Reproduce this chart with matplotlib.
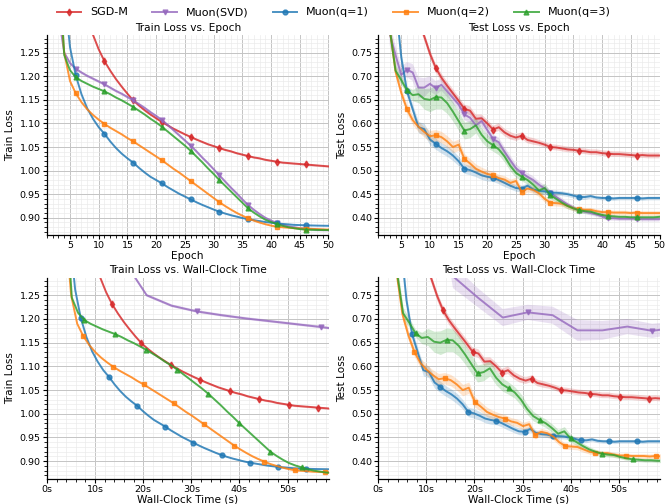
import numpy as np
import matplotlib
matplotlib.use("Agg")
import matplotlib.pyplot as plt
from matplotlib.ticker import AutoMinorLocator, MultipleLocator, FuncFormatter, FormatStrFormatter
from matplotlib.lines import Line2D

# ---------------------------------------------------------------- data
epochs = np.arange(1, 51)

methods = ["SGD-M", "Muon(SVD)", "Muon(q=1)", "Muon(q=2)", "Muon(q=3)"]
colors = ["#d62728", "#9467bd", "#1f77b4", "#ff7f0e", "#2ca02c"]
markers = ["d", "v", "o", "s", "^"]

# measured wall-clock seconds per training epoch
sec_per_epoch = [1.226, 5.18, 1.17, 1.255, 1.29]

train_sgdm = [2.05, 1.85, 1.70, 1.59, 1.50, 1.43, 1.37, 1.325, 1.288, 1.257,
              1.232, 1.212, 1.194, 1.178, 1.163, 1.149, 1.138, 1.128, 1.119, 1.111,
              1.103, 1.096, 1.089, 1.083, 1.077, 1.0715, 1.066, 1.061, 1.056, 1.052,
              1.048, 1.044, 1.041, 1.037, 1.034, 1.031, 1.028, 1.026, 1.023, 1.021,
              1.019, 1.017, 1.016, 1.015, 1.014, 1.013, 1.012, 1.011, 1.010, 1.009]
train_svd = [1.90, 1.55, 1.33, 1.25, 1.228, 1.216, 1.208, 1.201, 1.195, 1.189,
             1.183, 1.176, 1.169, 1.163, 1.156, 1.149, 1.141, 1.133, 1.124, 1.116,
             1.107, 1.097, 1.086, 1.075, 1.064, 1.053, 1.041, 1.028, 1.016, 1.003,
             0.990, 0.977, 0.964, 0.952, 0.939, 0.927, 0.917, 0.908, 0.900, 0.894,
             0.889, 0.885, 0.882, 0.880, 0.878, 0.877, 0.876, 0.875, 0.8745, 0.874]
train_q1 = [2.00, 1.75, 1.55, 1.38, 1.262, 1.202, 1.162, 1.132, 1.110, 1.092,
            1.078, 1.062, 1.048, 1.036, 1.026, 1.017, 1.006, 0.996, 0.987, 0.980,
            0.973, 0.965, 0.958, 0.951, 0.945, 0.939, 0.933, 0.9275, 0.9225, 0.9175,
            0.913, 0.909, 0.9055, 0.9025, 0.8995, 0.897, 0.895, 0.893, 0.891, 0.8895,
            0.888, 0.887, 0.886, 0.885, 0.8845, 0.884, 0.8837, 0.8834, 0.8832, 0.883]
train_q2 = [1.90, 1.62, 1.40, 1.25, 1.19, 1.164, 1.145, 1.130, 1.118, 1.108,
            1.099, 1.091, 1.084, 1.077, 1.069, 1.062, 1.054, 1.046, 1.038, 1.030,
            1.022, 1.013, 1.004, 0.996, 0.987, 0.978, 0.969, 0.960, 0.951, 0.942,
            0.933, 0.925, 0.9175, 0.9105, 0.9045, 0.899, 0.894, 0.890, 0.8865, 0.8835,
            0.881, 0.880, 0.879, 0.878, 0.8775, 0.877, 0.8765, 0.876, 0.8755, 0.875]
train_q3 = [2.00, 1.70, 1.45, 1.245, 1.213, 1.198, 1.190, 1.184, 1.178, 1.173,
            1.168, 1.162, 1.155, 1.149, 1.142, 1.135, 1.127, 1.119, 1.110, 1.102,
            1.093, 1.083, 1.073, 1.063, 1.053, 1.042, 1.030, 1.018, 1.005, 0.993,
            0.980, 0.968, 0.956, 0.944, 0.932, 0.920, 0.911, 0.903, 0.896, 0.891,
            0.887, 0.883, 0.880, 0.878, 0.876, 0.875, 0.8745, 0.8742, 0.874, 0.874]
train_std = [0.002, 0.003, 0.0015, 0.0015, 0.0015]

test_sgdm = [1.60, 1.35, 1.18, 1.06, 0.97, 0.90, 0.85, 0.82, 0.785, 0.748,
             0.718, 0.697, 0.680, 0.664, 0.648, 0.631, 0.627, 0.610, 0.611, 0.600,
             0.587, 0.592, 0.581, 0.574, 0.570, 0.574, 0.565, 0.562, 0.559, 0.555,
             0.550, 0.549, 0.547, 0.545, 0.544, 0.542, 0.541, 0.539, 0.539, 0.537,
             0.536, 0.535, 0.535, 0.534, 0.533, 0.532, 0.533, 0.532, 0.532, 0.532]
test_svd = [1.50, 1.10, 0.79, 0.745, 0.703, 0.714, 0.708, 0.676, 0.676, 0.684,
            0.675, 0.682, 0.668, 0.654, 0.640, 0.619, 0.612, 0.596, 0.605, 0.586,
            0.567, 0.560, 0.540, 0.522, 0.505, 0.495, 0.487, 0.480, 0.470, 0.462,
            0.452, 0.444, 0.436, 0.428, 0.421, 0.415, 0.413, 0.410, 0.407, 0.403,
            0.399, 0.399, 0.398, 0.398, 0.398, 0.398, 0.397, 0.397, 0.397, 0.397]
test_q1 = [1.30, 1.05, 0.92, 0.86, 0.74, 0.668, 0.630, 0.592, 0.588, 0.566,
           0.557, 0.548, 0.541, 0.532, 0.520, 0.504, 0.501, 0.496, 0.490, 0.487,
           0.485, 0.480, 0.474, 0.468, 0.463, 0.462, 0.468, 0.460, 0.457, 0.456,
           0.453, 0.453, 0.452, 0.450, 0.447, 0.444, 0.444, 0.446, 0.443, 0.442,
           0.442, 0.441, 0.442, 0.442, 0.442, 0.442, 0.441, 0.442, 0.442, 0.442]
test_q2 = [1.30, 0.95, 0.80, 0.71, 0.665, 0.630, 0.607, 0.593, 0.582, 0.573,
           0.575, 0.571, 0.562, 0.550, 0.555, 0.525, 0.515, 0.504, 0.498, 0.493,
           0.490, 0.484, 0.481, 0.474, 0.478, 0.455, 0.462, 0.459, 0.452, 0.440,
           0.432, 0.431, 0.430, 0.425, 0.420, 0.418, 0.417, 0.417, 0.414, 0.412,
           0.412, 0.411, 0.411, 0.411, 0.410, 0.411, 0.410, 0.410, 0.410, 0.410]
test_q3 = [1.40, 1.00, 0.80, 0.712, 0.692, 0.670, 0.660, 0.662, 0.652, 0.650,
           0.656, 0.655, 0.643, 0.625, 0.605, 0.585, 0.588, 0.596, 0.576, 0.562,
           0.554, 0.545, 0.530, 0.510, 0.495, 0.487, 0.480, 0.470, 0.458, 0.463,
           0.448, 0.440, 0.432, 0.425, 0.420, 0.416, 0.414, 0.413, 0.409, 0.406,
           0.404, 0.403, 0.402, 0.402, 0.401, 0.401, 0.401, 0.401, 0.401, 0.402]

test_std_sgdm = [0.020, 0.018, 0.016, 0.014, 0.012, 0.011, 0.010, 0.010, 0.009, 0.009,
                 0.009, 0.009, 0.009, 0.009, 0.009, 0.009, 0.009, 0.009, 0.008, 0.008,
                 0.008, 0.008, 0.008, 0.008, 0.007, 0.007, 0.007, 0.007, 0.006, 0.006,
                 0.006, 0.006, 0.006, 0.006, 0.006, 0.006, 0.006, 0.006, 0.006, 0.006,
                 0.006, 0.006, 0.006, 0.006, 0.006, 0.006, 0.006, 0.006, 0.006, 0.006]
test_std_svd = [0.030, 0.030, 0.025, 0.020, 0.018, 0.016, 0.018, 0.022, 0.020, 0.016,
                0.015, 0.013, 0.012, 0.012, 0.012, 0.012, 0.012, 0.012, 0.011, 0.011,
                0.010, 0.010, 0.010, 0.010, 0.009, 0.008, 0.008, 0.008, 0.007, 0.007,
                0.006, 0.006, 0.006, 0.005, 0.005, 0.005, 0.005, 0.005, 0.005, 0.005,
                0.005, 0.005, 0.005, 0.005, 0.005, 0.005, 0.005, 0.005, 0.005, 0.005]
test_std_q1 = [0.020, 0.020, 0.018, 0.015, 0.012, 0.010, 0.010, 0.012, 0.012, 0.012,
               0.012, 0.011, 0.011, 0.011, 0.010, 0.010, 0.010, 0.009, 0.009, 0.009,
               0.008, 0.008, 0.008, 0.007, 0.007, 0.007, 0.006, 0.006, 0.006, 0.006,
               0.006, 0.006, 0.005, 0.005, 0.005, 0.005, 0.005, 0.004, 0.004, 0.004,
               0.004, 0.004, 0.004, 0.004, 0.004, 0.004, 0.004, 0.004, 0.004, 0.004]
test_std_q2 = [0.020, 0.018, 0.015, 0.012, 0.011, 0.010, 0.010, 0.011, 0.011, 0.012,
               0.012, 0.012, 0.012, 0.012, 0.012, 0.011, 0.010, 0.010, 0.009, 0.009,
               0.008, 0.008, 0.008, 0.008, 0.008, 0.008, 0.007, 0.007, 0.007, 0.007,
               0.006, 0.006, 0.006, 0.006, 0.005, 0.005, 0.005, 0.005, 0.005, 0.005,
               0.005, 0.005, 0.005, 0.005, 0.005, 0.005, 0.005, 0.005, 0.005, 0.005]
test_std_q3 = [0.030, 0.025, 0.020, 0.012, 0.010, 0.008, 0.012, 0.018, 0.022, 0.025,
               0.025, 0.024, 0.022, 0.020, 0.020, 0.018, 0.018, 0.016, 0.015, 0.014,
               0.013, 0.012, 0.012, 0.011, 0.010, 0.009, 0.009, 0.009, 0.009, 0.010,
               0.008, 0.007, 0.006, 0.006, 0.005, 0.005, 0.005, 0.005, 0.004, 0.004,
               0.004, 0.004, 0.004, 0.004, 0.004, 0.004, 0.004, 0.004, 0.004, 0.004]

train_curves = [train_sgdm, train_svd, train_q1, train_q2, train_q3]
test_curves = [test_sgdm, test_svd, test_q1, test_q2, test_q3]
test_stds = [test_std_sgdm, test_std_svd, test_std_q1, test_std_q2, test_std_q3]

train_ylim = (0.8635, 1.2875)
test_ylim = (0.3635, 0.7875)

# ---------------------------------------------------------------- figure
plt.rcParams["font.family"] = "DejaVu Sans"
fig = plt.figure(figsize=(6.67, 5.04), dpi=100)

W, H = 667.0, 504.0
def add_axes(l, t, r, b):
    return fig.add_axes([l / W, 1 - b / H, (r - l) / W, (b - t) / H])

ax_tr_ep = add_axes(47, 35, 328.5, 235)
ax_te_ep = add_axes(378.3, 35, 659.5, 235)
ax_tr_wc = add_axes(47, 277.5, 328.5, 478.5)
ax_te_wc = add_axes(378.3, 277.5, 659.5, 478.5)

wall_times = [epochs * s for s in sec_per_epoch]
wc_right = min(t[-1] for t in wall_times)


def draw(ax, xs_list, ys_list, stds):
    for i in range(len(methods)):
        x = np.asarray(xs_list[i])
        y = np.asarray(ys_list[i], dtype=float)
        s = np.asarray(stds[i], dtype=float)
        ax.fill_between(x, y - s, y + s, color=colors[i], alpha=0.2, lw=0)
        ax.plot(x, y, color=colors[i], marker=markers[i], markevery=5,
                markersize=3.5, lw=1.4, alpha=0.8)


draw(ax_tr_ep, [epochs] * 5, train_curves, [np.full(50, s) for s in train_std])
draw(ax_te_ep, [epochs] * 5, test_curves, test_stds)
draw(ax_tr_wc, wall_times, train_curves, [np.full(50, s) for s in train_std])
draw(ax_te_wc, wall_times, test_curves, test_stds)

panels = [
    (ax_tr_ep, "Train Loss vs. Epoch", "Epoch", "Train Loss", train_ylim, "epoch"),
    (ax_te_ep, "Test Loss vs. Epoch", "Epoch", "Test Loss", test_ylim, "epoch"),
    (ax_tr_wc, "Train Loss vs. Wall-Clock Time", "Wall-Clock Time (s)", "Train Loss", train_ylim, "time"),
    (ax_te_wc, "Test Loss vs. Wall-Clock Time", "Wall-Clock Time (s)", "Test Loss", test_ylim, "time"),
]

for ax, title, xl, yl, ylim, kind in panels:
    ax.set_title(title, fontsize=7.6, pad=3)
    ax.set_xlabel(xl, fontsize=7.6, labelpad=0.5)
    ax.set_ylabel(yl, fontsize=7.6, labelpad=3)
    ax.set_ylim(*ylim)
    ax.yaxis.set_major_locator(MultipleLocator(0.05))
    ax.yaxis.set_major_formatter(FormatStrFormatter("%.2f"))
    if kind == "epoch":
        ax.set_xlim(1, 50)
        ax.xaxis.set_major_locator(MultipleLocator(5))
    else:
        ax.set_xlim(0, wc_right)
        ax.xaxis.set_major_locator(MultipleLocator(10))
        ax.xaxis.set_major_formatter(FuncFormatter(lambda v, p: f"{v:.0f}s"))
    ax.xaxis.set_minor_locator(AutoMinorLocator())
    ax.yaxis.set_minor_locator(AutoMinorLocator())
    ax.grid(True, which="major", color="#c4c4c4", lw=0.7)
    ax.grid(True, which="minor", color="#ebebeb", lw=0.5)
    ax.set_axisbelow(True)
    ax.tick_params(which="major", labelsize=6.8, length=3, width=0.8, pad=1.5)
    ax.tick_params(which="minor", length=2, width=0.6)
    for side in ("top", "right"):
        ax.spines[side].set_visible(False)
    for side in ("left", "bottom"):
        ax.spines[side].set_linewidth(0.9)

handles = [Line2D([], [], color=c, marker=m, markersize=3.5, lw=1.4, alpha=0.8)
           for c, m in zip(colors, markers)]
fig.legend(handles, methods, loc="upper center", ncol=5, frameon=False,
           bbox_to_anchor=(0.5, 1.005), fontsize=8, columnspacing=2.2,
           handlelength=2.2)

fig.savefig("out.png", dpi=100)
